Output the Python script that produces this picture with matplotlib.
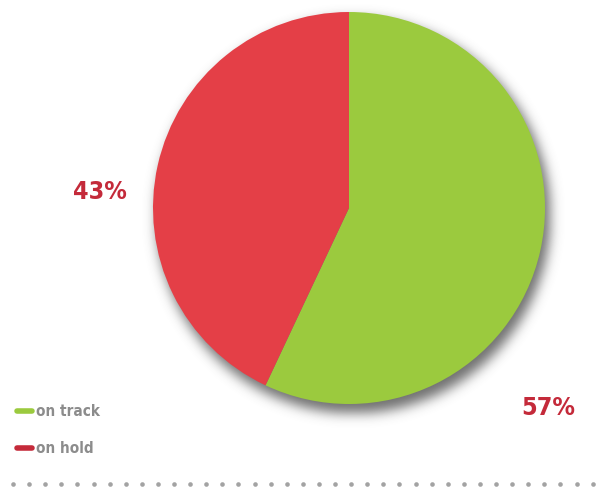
import numpy as np
import matplotlib
matplotlib.use("Agg")
import matplotlib.pyplot as plt
from matplotlib.lines import Line2D

# data
labels = ["on track", "on hold"]
values = [57, 43]
pie_colors = ["#9bca3e", "#e43f47"]
legend_colors = ["#9bca3e", "#c42a3a"]
label_color = "#c42a3a"

W, H = 599, 490
fig = plt.figure(figsize=(W / 100, H / 100), dpi=100)
ax = fig.add_axes([0, 0, 1, 1])

cx, cy, r = 349, H - 208, 196

# soft drop shadow (blurred disc, shifted down-right)
yy, xx = np.mgrid[0:H, 0:W]
disc = (((xx - (cx + 4)) ** 2 + ((H - yy) - (cy - 8)) ** 2) <= (r + 1) ** 2).astype(float)
k = np.exp(-0.5 * (np.arange(-20, 21) / 6.0) ** 2)
k /= k.sum()
blur = np.apply_along_axis(lambda v: np.convolve(v, k, mode="same"), 0, disc)
blur = np.apply_along_axis(lambda v: np.convolve(v, k, mode="same"), 1, blur)
shadow = np.zeros((H, W, 4))
shadow[..., :3] = 0.3
shadow[..., 3] = blur * 0.8
ax.imshow(shadow, extent=(0, W, 0, H), origin="upper", zorder=1, interpolation="bilinear")

wedges, _ = ax.pie(values, colors=pie_colors, startangle=90, counterclock=False,
                   center=(cx, cy), radius=r, frame=True,
                   wedgeprops=dict(linewidth=0))
for w in wedges:
    w.set_zorder(2)
ax.set_xlim(0, W)
ax.set_ylim(0, H)
ax.set_aspect("equal")
ax.axis("off")

pct = [f"{round(100 * v / sum(values))}%" for v in values]
font = dict(family="DejaVu Sans", fontstretch="condensed", fontweight="bold")
ax.text(548, H - 408, pct[0], color=label_color, fontsize=18, ha="center", va="center", **font)
ax.text(100, H - 192, pct[1], color=label_color, fontsize=18, ha="center", va="center", **font)

# legend
handles = [Line2D([0], [0], color=c, lw=4, solid_capstyle="round") for c in legend_colors]
ax.legend(handles, labels, loc="lower left", bbox_to_anchor=(9 / W, 26 / H),
          frameon=False, handlelength=1.0, handletextpad=0.25, labelspacing=1.45,
          borderpad=0, prop=dict(family="DejaVu Sans", stretch="condensed", weight="bold", size=11),
          labelcolor="#8c8c8c")

# dotted rule at the bottom
dots_x = np.arange(13, W, 16.1)
ax.scatter(dots_x, np.full_like(dots_x, H - 484), s=11, color="#a3a3a3", linewidths=0, zorder=3)

fig.savefig("out.png", dpi=100)
